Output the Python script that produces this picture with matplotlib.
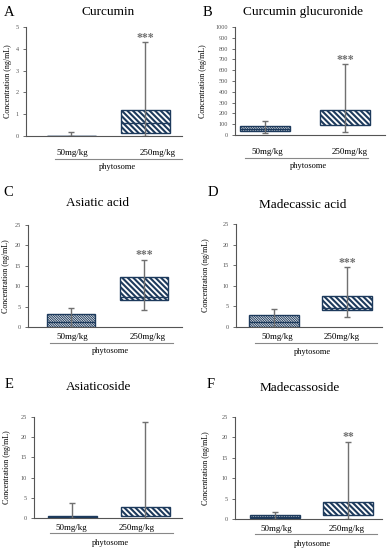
import numpy as np
import matplotlib.pyplot as plt

plt.rcParams['font.family'] = 'Liberation Serif'

groups = ["50mg/kg", "250mg/kg"]

letters = ["A", "B", "C", "D", "E", "F"]
titles = ["Curcumin", "Curcumin glucuronide", "Asiatic acid",
          "Madecassic acid", "Asiaticoside", "Madecassoside"]
ymax = [5, 1000, 25, 25, 25, 25]
ystep = [1, 100, 5, 5, 5, 5]

# per panel: [50mg/kg, 250mg/kg]
q1 = [[0.0, 0.14], [40, 95], [0.0, 6.6], [0.0, 4.1], [0.05, 0.4], [0.2, 1.0]]
q3 = [[0.0, 1.19], [85, 228], [3.3, 12.3], [2.9, 7.5], [0.6, 2.6], [0.9, 4.1]]
med = [[0.0, 0.58], [60, None], [1.15, 7.3], [1.2, 4.6], [0.3, None], [0.5, None]]
wlo = [[0.0, 0.0], [20, 30], [0.0, 4.2], [0.0, 2.35], [0.0, 0.0], [0.1, 0.1]]
whi = [[0.2, 4.3], [130, 655], [4.7, 16.5], [4.3, 14.5], [3.6, 23.8], [1.7, 18.9]]
stars = ["***", "***", "***", "***", "", "**"]

# layout in pixels
W, H = 390, 550
boxes = [(26, 182, 27, 136), (235, 385, 27, 135),
         (28, 182, 225, 327), (236, 382, 224, 327),
         (34, 182, 417, 518), (235, 382, 417, 519)]
centers = [(71, 145), (265, 345), (71, 144), (274, 347), (72, 145), (275, 348)]
bw = [49, 50, 48, 50, 49, 50]
title_xy = [(108, 12), (303, 12), (98, 203), (303, 205), (99, 387), (300, 388)]
letter_xy = [(9, 13), (207, 12), (8, 193), (213, 193), (9, 385), (211, 385)]
ylab_x = [12, 207, 10, 210, 11, 210]
glab_x = [(72, 158), (267, 350), (72, 148), (277, 342), (71, 137), (276, 347)]
line_x = [(55, 182), (245, 368), (50, 173), (255, 377), (50, 173), (255, 377)]
phyto_x = [117, 308, 110, 312, 110, 312]
offs = [(17, 23, 31), (17, 23, 31), (10, 16, 24), (10, 16, 25), (10, 15, 25), (10, 15, 25)]

navy = "#1d3a5c"
grey = "#707070"


def fx(px):
    return px / W


def fy(py):
    return 1 - py / H


fig = plt.figure(figsize=(3.9, 5.5), dpi=100)

for i in range(6):
    l, r, t, b = boxes[i]
    c0, c1 = centers[i]
    s = c1 - c0
    ax = fig.add_axes([fx(l), fy(b), (r - l) / W, (b - t) / H])
    w = bw[i] / s
    for j in range(2):
        if j == 0:
            hatch = '\\' * 14
            plt.rcParams['hatch.linewidth'] = 0.7
        else:
            hatch = '\\' * 6
            plt.rcParams['hatch.linewidth'] = 1.5
        ax.bar(j, q3[i][j] - q1[i][j], bottom=q1[i][j], width=w,
               facecolor="white", edgecolor=navy, hatch=hatch, linewidth=1.0, zorder=2)
        if med[i][j] is not None:
            ax.hlines(med[i][j], j - w / 2, j + w / 2, color=navy, lw=1.0, zorder=3)
        ax.vlines(j, wlo[i][j], whi[i][j], color=grey, lw=1.0, zorder=4)
        ax.hlines([whi[i][j], wlo[i][j]], j - 0.04, j + 0.04, color=grey, lw=1.0, zorder=4)
    if stars[i]:
        ax.annotate(stars[i], (1, whi[i][1]), xytext=(0, 1.0), textcoords="offset points",
                    ha="center", va="baseline", color=grey, fontsize=8.5, fontweight="bold")
    ax.set_xlim((l - c0) / s, (r - c0) / s)
    ax.set_ylim(0, ymax[i])
    ax.set_yticks(np.arange(0, ymax[i] + ystep[i] / 2, ystep[i]))
    ax.set_xticks([])
    ax.tick_params(axis="y", labelsize=4.5, length=2, width=0.6, colors="#555555", pad=3)
    for sp in ["top", "right"]:
        ax.spines[sp].set_visible(False)
    for sp in ["left", "bottom"]:
        ax.spines[sp].set_color("#555555")
        ax.spines[sp].set_linewidth(0.8)
    ax.set_ylabel("Concentration (ng/mL)", fontsize=5.8)
    ax.yaxis.set_label_coords((ylab_x[i] - l) / (r - l), 0.5)

    fig.text(fx(title_xy[i][0]), fy(title_xy[i][1]), titles[i], fontsize=9.5,
             ha="center", va="center")
    fig.text(fx(letter_xy[i][0]), fy(letter_xy[i][1]), letters[i], fontsize=10.5,
             ha="center", va="center")
    lo, ln, po = offs[i]
    for j in range(2):
        fig.text(fx(glab_x[i][j]), fy(b + lo), groups[j], fontsize=6.5,
                 ha="center", va="center")
    fig.add_artist(plt.Line2D([fx(line_x[i][0]), fx(line_x[i][1])],
                              [fy(b + ln), fy(b + ln)], color="#888888", lw=0.8))
    fig.text(fx(phyto_x[i]), fy(b + po), "phytosome", fontsize=6,
             ha="center", va="center")

fig.savefig("out.png", dpi=100)
